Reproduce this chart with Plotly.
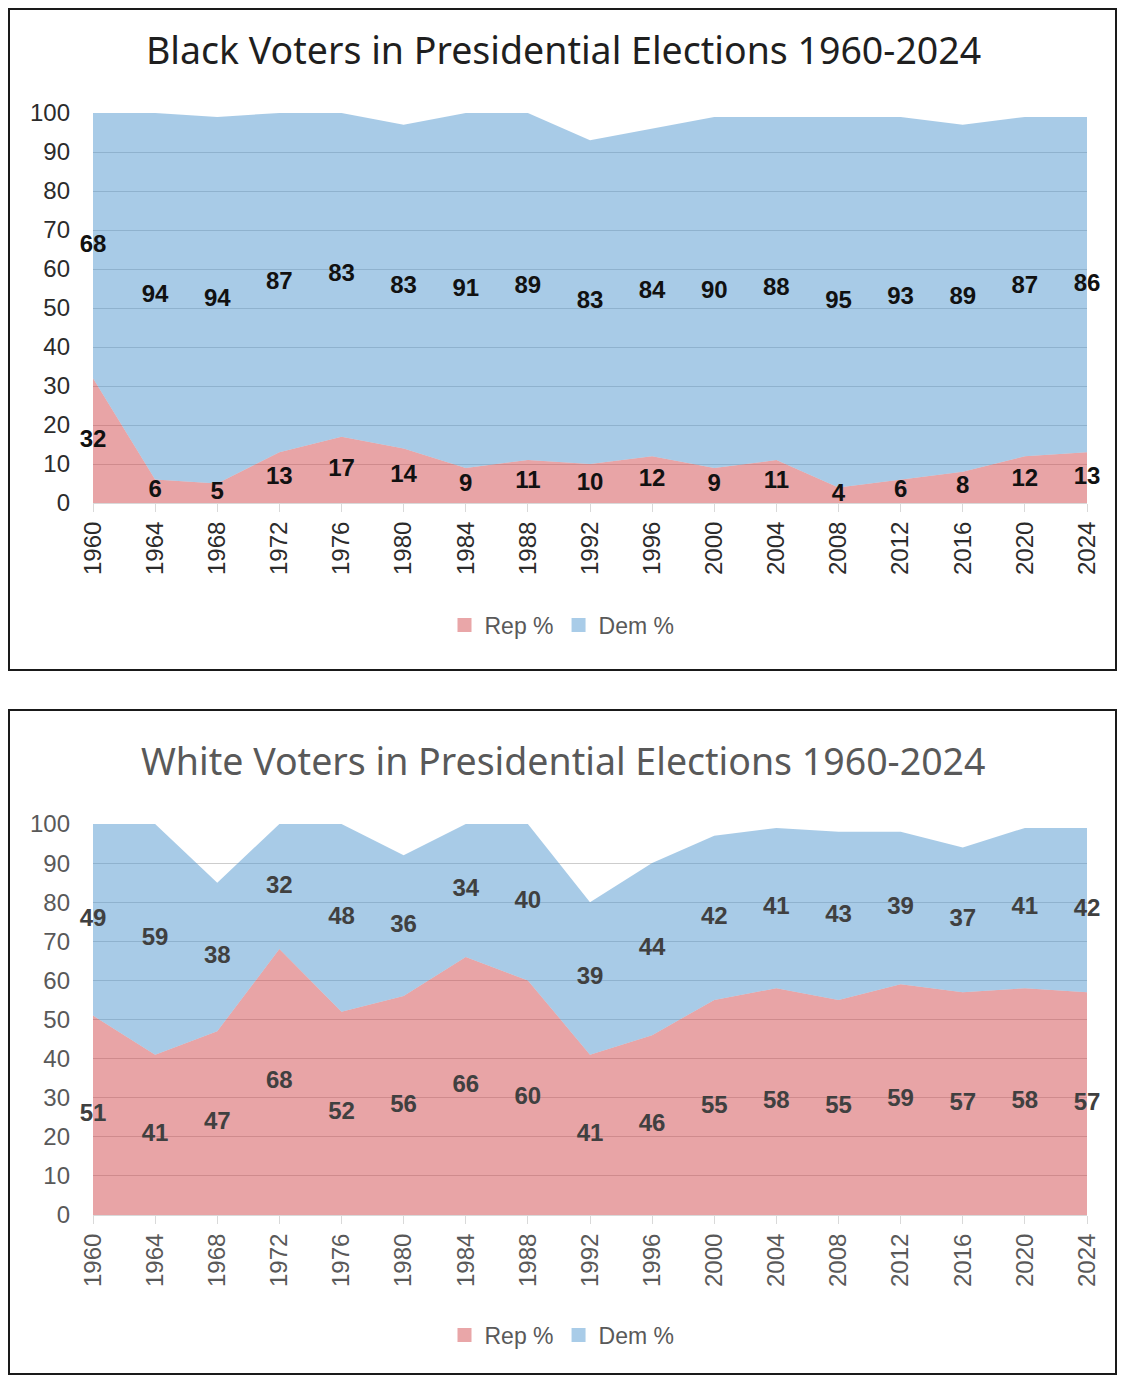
import plotly.graph_objects as go

YEARS = [1960, 1964, 1968, 1972, 1976, 1980, 1984, 1988, 1992,
         1996, 2000, 2004, 2008, 2012, 2016, 2020, 2024]

BLACK_REP = [32, 6, 5, 13, 17, 14, 9, 11, 10, 12, 9, 11, 4, 6, 8, 12, 13]
BLACK_DEM = [68, 94, 94, 87, 83, 83, 91, 89, 83, 84, 90, 88, 95, 93, 89, 87, 86]

WHITE_REP = [51, 41, 47, 68, 52, 56, 66, 60, 41, 46, 55, 58, 55, 59, 57, 58, 57]
WHITE_DEM = [49, 59, 38, 32, 48, 36, 34, 40, 39, 44, 42, 41, 43, 39, 37, 41, 42]

TITLES = ["Black Voters in Presidential Elections 1960-2024",
          "White Voters in Presidential Elections 1960-2024"]

# page body has an 8px margin on every side; keep the figure inside the window
OFF = 8
W, H = 1125 - 2 * OFF, 1383 - 2 * OFF
REP_FILL = "rgba(209,73,77,0.5)"
DEM_FILL = "rgba(81,151,207,0.5)"
REP_KEY = "#e9a6a8"
DEM_KEY = "#a9cce8"
GRID = "#cdcdcd"


def px(pix):
    # window pixel from left -> paper fraction
    return (pix - OFF) / W


def py(pix):
    # window pixel from top -> paper fraction
    return 1 - (pix - OFF) / H


fig = go.Figure()

panels = [
    dict(rep=BLACK_REP, dem=BLACK_DEM, ax="", legend="legend", lab="#111111",
         tick="#2b2b2b", title="#1f1f1f", top=113, bot=503, title_y=50,
         leg_y=625, box=(9, 670)),
    dict(rep=WHITE_REP, dem=WHITE_DEM, ax="2", legend="legend2", lab="#404040",
         tick="#595959", title="#595959", top=824, bot=1215, title_y=760,
         leg_y=1335, box=(710, 1374)),
]

for n, p in enumerate(panels):
    xa, ya = "x" + p["ax"], "y" + p["ax"]
    sg = "stack" + str(n)
    fig.add_trace(go.Scatter(
        x=YEARS, y=p["rep"], name="Rep %", stackgroup=sg, mode="lines",
        line=dict(width=0), fillcolor=REP_FILL, xaxis=xa, yaxis=ya,
        showlegend=False, hoverinfo="skip",
    ))
    fig.add_trace(go.Scatter(
        x=YEARS, y=p["dem"], name="Dem %", stackgroup=sg, mode="lines",
        line=dict(width=0), fillcolor=DEM_FILL, xaxis=xa, yaxis=ya,
        showlegend=False, hoverinfo="skip",
    ))

    # legend keys as square swatches
    for name, col in (("Rep %", REP_KEY), ("Dem %", DEM_KEY)):
        fig.add_trace(go.Scatter(
            x=[None], y=[None], mode="markers", name=name,
            marker=dict(symbol="square", size=14, color=col),
            xaxis=xa, yaxis=ya, legend=p["legend"],
        ))

    # data labels sit in the middle of each band
    rep_mid = [r / 2 for r in p["rep"]]
    dem_mid = [r + d / 2 for r, d in zip(p["rep"], p["dem"])]
    fig.add_trace(go.Scatter(
        x=YEARS + YEARS, y=rep_mid + dem_mid, mode="text",
        text=[str(v) for v in p["rep"] + p["dem"]],
        textfont=dict(family="Liberation Sans", size=24, color=p["lab"],
                      weight="bold"),
        cliponaxis=False, showlegend=False, hoverinfo="skip",
        xaxis=xa, yaxis=ya,
    ))

    ydom = [py(p["bot"]), py(p["top"])]
    fig.update_layout(**{
        "xaxis" + p["ax"]: dict(
            domain=[px(93), px(1087)], range=[1960, 2024],
            tickvals=YEARS, tickangle=-90, showgrid=False,
            ticks="outside", ticklen=8, tickcolor="#d9d9d9",
            showline=True, linecolor="#d9d9d9", zeroline=False,
            ticklabelstandoff=0, anchor=ya, automargin=False,
            tickfont=dict(family="Liberation Sans", size=24, color=p["tick"]),
        ),
        "yaxis" + p["ax"]: dict(
            domain=ydom, range=[0, 100], dtick=10, showgrid=True,
            gridcolor=GRID, gridwidth=1, zeroline=False, anchor=xa,
            ticklabelstandoff=22, automargin=False,
            tickfont=dict(family="Liberation Sans", size=24, color=p["tick"]),
        ),
        p["legend"]: dict(
            orientation="h", x=px(562), xanchor="center", y=py(p["leg_y"]),
            yanchor="middle", font=dict(family="Liberation Sans", size=23,
                                        color="#595959"),
            itemwidth=30, traceorder="normal",
        ),
    })

    fig.add_annotation(
        text=TITLES[n], xref="paper", yref="paper", x=px(563), y=py(p["title_y"]),
        xanchor="center", yanchor="middle", showarrow=False,
        font=dict(family="Noto Sans", size=37.5, color=p["title"]),
    )
    fig.add_shape(
        type="rect", xref="paper", yref="paper",
        x0=px(9), x1=px(1116), y0=py(p["box"][1]), y1=py(p["box"][0]),
        line=dict(color="#1a1a1a", width=2), fillcolor="rgba(0,0,0,0)",
    )

fig.update_layout(
    width=W, height=H,
    margin=dict(l=0, r=0, t=0, b=0, pad=0),
    paper_bgcolor="white", plot_bgcolor="white",
)

fig.write_html("out.html")
